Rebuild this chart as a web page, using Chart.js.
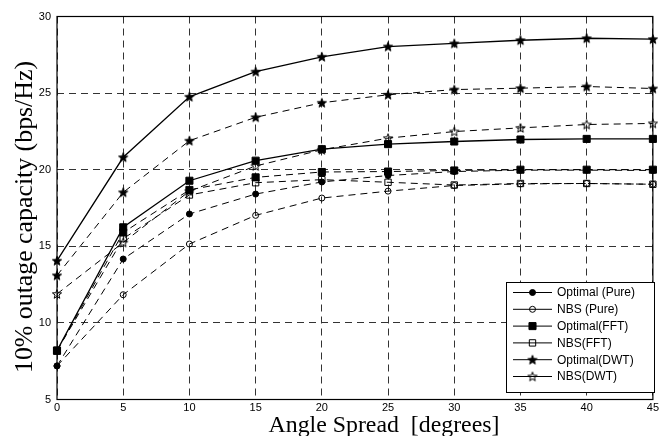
<!DOCTYPE html>
<html><head><meta charset="utf-8">
<script src="https://cdn.jsdelivr.net/npm/chart.js@4/dist/chart.umd.min.js"></script>
<style>html,body{margin:0;padding:0;background:#fff}#wrap{width:661px;height:436px}</style>
</head><body><div id="wrap"><canvas id="c" width="661" height="436"></canvas></div>
<script>
// ---- data ----
const angles = [0, 5, 10, 15, 20, 25, 30, 35, 40, 45];
const optimalPure = [7.19, 14.17, 17.11, 18.41, 19.20, 19.62, 19.88, 19.97, 19.97, 19.95];
const nbsPure     = [7.19, 11.84, 15.15, 17.02, 18.15, 18.60, 18.97, 19.07, 19.10, 19.05];
const optimalFFT  = [8.19, 15.90, 18.68, 19.50, 19.85, 19.88, 19.95, 20.00, 20.00, 20.00];
const nbsFFT      = [8.19, 15.50, 18.35, 19.15, 19.35, 19.18, 19.00, 19.10, 19.10, 19.05];
const optimalDWT  = [13.10, 18.52, 21.89, 23.42, 24.37, 24.89, 25.23, 25.32, 25.43, 25.30];
const nbsDWT      = [11.89, 15.25, 18.60, 20.24, 21.30, 22.06, 22.49, 22.73, 22.95, 23.02];
const solidFFT    = [8.19, 16.24, 19.28, 20.59, 21.34, 21.67, 21.84, 21.97, 22.01, 22.01];
const solidDWT    = [14.06, 20.81, 24.76, 26.40, 27.37, 28.04, 28.24, 28.45, 28.58, 28.52];
const xTicks = [0, 5, 10, 15, 20, 25, 30, 35, 40, 45];
const yTicks = [5, 10, 15, 20, 25, 30];
const legendLabels = ['Optimal (Pure)', 'NBS (Pure)', 'Optimal(FFT)', 'NBS(FFT)', 'Optimal(DWT)', 'NBS(DWT)'];
const xTitle = 'Angle Spread  [degrees]';
const yTitle = '10% outage capacity (bps/Hz)';

function starImg(filled) {
  const s = 12, c = document.createElement('canvas');
  c.width = s; c.height = s;
  const g = c.getContext('2d');
  const R = 4.8, r = 2.0, cx = s / 2, cy = s / 2 + 0.4;
  g.beginPath();
  for (let i = 0; i < 10; i++) {
    const a = -Math.PI / 2 + i * Math.PI / 5;
    const rr = i % 2 ? r : R;
    g.lineTo(cx + rr * Math.cos(a), cy + rr * Math.sin(a));
  }
  g.closePath();
  if (filled) { g.fillStyle = '#000'; g.fill(); }
  g.lineWidth = 1; g.strokeStyle = '#000'; g.stroke();
  return c;
}
const starFilled = starImg(true), starHollow = starImg(false);

const pts = (arr) => angles.map((a, i) => ({x: a, y: arr[i]}));
const DASH = [7, 5];
function ds(label, arr, style, filled, dashed, radius) {
  return {
    label, data: pts(arr),
    borderColor: '#000', borderWidth: dashed ? 1 : 1.3,
    borderDash: dashed ? DASH : [],
    pointStyle: style, pointRadius: radius, pointHoverRadius: radius,
    pointBackgroundColor: filled ? '#000' : 'rgba(0,0,0,0)',
    pointBorderColor: '#000', pointBorderWidth: 1,
    fill: false, tension: 0, clip: 10
  };
}
const datasets = [
  ds('Optimal (Pure)', optimalPure, 'circle', true, true, 3),
  ds('NBS (Pure)', nbsPure, 'circle', false, true, 3),
  ds('Optimal(FFT)', optimalFFT, 'rect', true, true, 5),
  ds('NBS(FFT)', nbsFFT, 'rect', false, true, 4.5),
  ds('Optimal(DWT)', optimalDWT, starFilled, true, true, 5),
  ds('NBS(DWT)', nbsDWT, starHollow, false, true, 5),
  ds('Optimal(FFT) solid', solidFFT, 'rect', true, false, 5),
  ds('Optimal(DWT) solid', solidDWT, starFilled, true, false, 5)
];

const SERIF = '"Liberation Serif", "Times New Roman", serif';
function fitFont(ctx, text, target) {
  ctx.font = '22px ' + SERIF;
  const w = ctx.measureText(text).width;
  return (22 * target / w).toFixed(2) + 'px ' + SERIF;
}

const framePlugin = {
  id: 'frameLegend',
  afterDraw(chart) {
    const ctx = chart.ctx, a = chart.chartArea;
    ctx.save();
    ctx.strokeStyle = '#000'; ctx.lineWidth = 1.2; ctx.setLineDash([]);
    ctx.strokeRect(a.left, a.top, a.right - a.left, a.bottom - a.top);
    // axis titles
    ctx.fillStyle = '#000';
    ctx.textAlign = 'center'; ctx.textBaseline = 'alphabetic';
    ctx.font = fitFont(ctx, xTitle, 231);
    ctx.fillText(xTitle, 384, 431.5);
    ctx.save();
    ctx.translate(31.5, 217);
    ctx.rotate(-Math.PI / 2);
    ctx.font = fitFont(ctx, yTitle, 312);
    ctx.fillText(yTitle, 0, 0);
    ctx.restore();
    // legend box
    const bx = 506, by = 282, bw = 148, bh = 110;
    ctx.fillStyle = '#fff'; ctx.fillRect(bx, by, bw, bh);
    ctx.lineWidth = 1; ctx.strokeStyle = '#000'; ctx.strokeRect(bx + 0.5, by + 0.5, bw, bh);
    ctx.font = '12px "Liberation Sans", Arial, sans-serif';
    ctx.textBaseline = 'middle'; ctx.textAlign = 'left';
    legendLabels.forEach((lab, i) => {
      const y = 292.5 + i * 16.8;
      const d = chart.data.datasets[i];
      ctx.beginPath(); ctx.moveTo(513, y); ctx.lineTo(552, y);
      ctx.strokeStyle = '#000'; ctx.lineWidth = 1; ctx.stroke();
      ctx.fillStyle = d.pointBackgroundColor; ctx.strokeStyle = '#000';
      Chart.helpers.drawPoint(ctx, {pointStyle: d.pointStyle, radius: d.pointRadius, rotation: 0, borderWidth: 1}, 532.5, y);
      ctx.fillStyle = '#000';
      ctx.fillText(lab, 557, y + 0.5);
    });
    ctx.restore();
  }
};

const tickFont = {family: '"Liberation Sans", Arial, sans-serif', size: 11};

new Chart(document.getElementById('c'), {
  type: 'line',
  data: {datasets},
  options: {
    responsive: false, animation: false, devicePixelRatio: 1,
    layout: {padding: {top: 16.5, right: 6, left: 0, bottom: 0}},
    plugins: {legend: {display: false}, tooltip: {enabled: false}},
    scales: {
      x: {
        type: 'linear', min: 0, max: 45,
        afterBuildTicks: (s) => { s.ticks = xTicks.map(v => ({value: v})); },
        ticks: {font: tickFont, color: '#000', padding: 2, maxRotation: 0, autoSkip: false},
        grid: {color: '#333', lineWidth: 1, drawTicks: false},
        border: {display: false, dash: [7, 5]},
        title: {display: false, text: xTitle},
        afterFit: (s) => { s.height = 36.5; }
      },
      y: {
        type: 'linear', min: 5, max: 30,
        afterBuildTicks: (s) => { s.ticks = yTicks.map(v => ({value: v})); },
        ticks: {font: tickFont, color: '#000', padding: 6},
        grid: {color: '#333', lineWidth: 1, drawTicks: false},
        border: {display: false, dash: [7, 5]},
        title: {display: false, text: yTitle},
        afterFit: (s) => { s.width = 57; }
      }
    }
  },
  plugins: [framePlugin]
});
</script></body></html>
